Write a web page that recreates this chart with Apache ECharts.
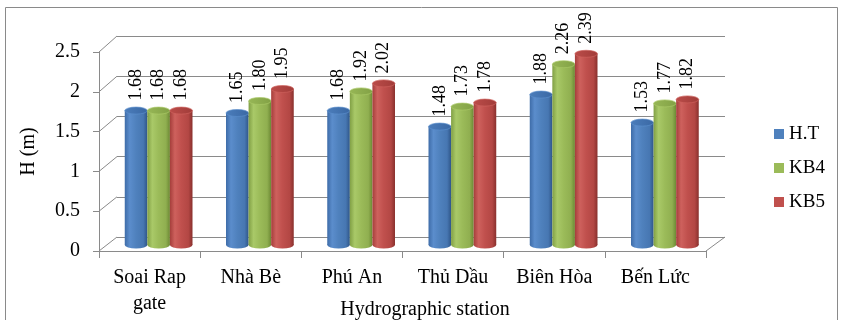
<!DOCTYPE html>
<html>
<head>
<meta charset="utf-8">
<script src="https://cdn.jsdelivr.net/npm/echarts@6/dist/echarts.min.js"></script>
<style>
  html, body { margin: 0; padding: 0; background: #fff; }
  #chart { width: 841px; height: 320px; }
</style>
</head>
<body>
<div id="chart"></div>
<script>
// Water level (H, m) at each hydrographic station for three scenarios
const categories = ['Soai Rap\ngate', 'Nhà Bè', 'Phú An', 'Thủ Dầu', 'Biên Hòa', 'Bến Lức'];
const seriesNames = ['H.T', 'KB4', 'KB5'];
const htValues  = [1.68, 1.65, 1.68, 1.48, 1.88, 1.53];
const kb4Values = [1.68, 1.80, 1.92, 1.73, 2.26, 1.77];
const kb5Values = [1.68, 1.95, 2.02, 1.78, 2.39, 1.82];
const yMin = 0, yMax = 2.5, yStep = 0.5;
const yTicks = [0, 0.5, 1, 1.5, 2, 2.5];

// Pseudo-3D box: front face, mid depth (where the columns stand) and back wall
const W = 841, H = 320;
const front = { x0: 99,  x1: 706,   y0: 52, y1: 251 };
const mid   = { x0: 108, x1: 715.5, y0: 45, y1: 245 };
const back  = { x0: 117, x1: 725,   y0: 36, y1: 237 };
const gridOf = (b) => ({ left: b.x0, right: W - b.x1, top: b.y0, bottom: H - b.y1 });

const FONT = '"Liberation Serif", "Times New Roman", serif';
const LINE = '#8a8a8a';

// Cylinder shading per series: body gradient (left→right) and cap colours
const palette = [
  { base: '#4F81BD', body: ['#3e6ca8', '#5b8dcc', '#4f81bd', '#4777b2', '#2f5689'], cap: ['#4b7dbb', '#3a68a4'] },
  { base: '#9BBB59', body: ['#81a045', '#a9c968', '#9bbb59', '#90af50', '#6c8934'], cap: ['#97b756', '#82a145'] },
  { base: '#C0504D', body: ['#a53e3b', '#ce615d', '#c0504d', '#b34744', '#89302d'], cap: ['#bb4c49', '#a13c39'] }
];

function grad(stops, horizontal) {
  const n = stops.length - 1;
  const pos = [0, 0.22, 0.5, 0.82, 1];
  return new echarts.graphic.LinearGradient(0, 0, horizontal ? 1 : 0, horizontal ? 0 : 1,
    stops.map((c, i) => ({ offset: n === 4 ? pos[i] : i / n, color: c })));
}

function renderCylinder(params, api) {
  const si = seriesNames.indexOf(params.seriesName);
  const p = palette[si];
  const ci = api.value(0);
  const v = api.value(1);
  const topPt = api.coord([ci, v]);
  const basePt = api.coord([ci, 0]);
  const band = api.size([1, 0])[0];
  const w = band * 0.223;
  const r = w / 2;
  const ry = 3.5;
  const cx = topPt[0] + (si - 1) * w;
  const body = grad(p.body, true);
  return {
    type: 'group',
    children: [
      { type: 'circle', x: cx, y: basePt[1], scaleY: ry / r, shape: { cx: 0, cy: 0, r: r }, style: { fill: body } },
      { type: 'rect', shape: { x: cx - r, y: topPt[1], width: w, height: basePt[1] - topPt[1] }, style: { fill: body } },
      { type: 'circle', x: cx, y: topPt[1], scaleY: ry / r, shape: { cx: 0, cy: 0, r: r },
        style: { fill: grad(p.cap, true), stroke: p.body[1], lineWidth: 0.6 } },
      { type: 'text', x: cx, y: topPt[1] - 10, rotation: Math.PI / 2,
        style: { text: v.toFixed(2), align: 'left', verticalAlign: 'middle', fill: '#000', font: '18px ' + FONT } }
    ]
  };
}

const seriesData = [htValues, kb4Values, kb5Values];

const chart = echarts.init(document.getElementById('chart'), null, { renderer: 'canvas' });

const option = {
  animation: false,
  backgroundColor: '#fff',
  grid: [gridOf(front), gridOf(mid), gridOf(back)],
  xAxis: [
    { gridIndex: 0, type: 'category', data: categories,
      axisLine: { show: true, lineStyle: { color: LINE, width: 1 } },
      axisTick: { show: true, length: 7, lineStyle: { color: LINE } },
      axisLabel: { color: '#000', fontFamily: FONT, fontSize: 20, lineHeight: 26, margin: 14, interval: 0 },
      splitLine: { show: false } },
    { gridIndex: 1, type: 'category', data: categories, show: false },
    { gridIndex: 2, type: 'category', data: categories, show: false }
  ],
  yAxis: [
    { gridIndex: 0, type: 'value', min: yMin, max: yMax, interval: yStep,
      name: 'H (m)', nameLocation: 'middle', nameGap: 60,
      nameTextStyle: { color: '#000', fontFamily: FONT, fontSize: 20 },
      axisLine: { show: true, lineStyle: { color: LINE, width: 1 } },
      axisTick: { show: true, length: 6, lineStyle: { color: LINE } },
      axisLabel: { color: '#000', fontFamily: FONT, fontSize: 20, margin: 19 },
      splitLine: { show: false } },
    { gridIndex: 1, type: 'value', min: yMin, max: yMax, interval: yStep, show: false, splitLine: { show: false } },
    { gridIndex: 2, type: 'value', min: yMin, max: yMax, interval: yStep,
      axisLine: { show: false }, axisTick: { show: false }, axisLabel: { show: false },
      splitLine: { show: true, lineStyle: { color: LINE, width: 1 } } }
  ],
  legend: {
    orient: 'vertical', left: 769, top: 119,
    itemWidth: 10, itemHeight: 10, itemGap: 14, icon: 'rect',
    data: seriesNames,
    textStyle: { color: '#000', fontFamily: FONT, fontSize: 19, lineHeight: 20 }
  },
  series: seriesNames.map((name, i) => ({
    name: name,
    type: 'custom',
    xAxisIndex: 1,
    yAxisIndex: 1,
    renderItem: renderCylinder,
    itemStyle: { color: palette[i].base },
    encode: { x: 0, y: 1 },
    data: seriesData[i].map((v, k) => [k, v]),
    z: 3
  }))
};

chart.setOption(option);

// Side-wall and floor edges linking the front face to the back wall
const yFront = (v) => chart.convertToPixel({ yAxisIndex: 0 }, v);
const yBack = (v) => chart.convertToPixel({ yAxisIndex: 2 }, v);
const edges = yTicks.map((v) => ({
  type: 'line', silent: true, z: 1,
  shape: { x1: front.x0, y1: yFront(v), x2: back.x0, y2: yBack(v) },
  style: { stroke: LINE, lineWidth: 1 }
}));
edges.push({
  type: 'line', silent: true, z: 1,
  shape: { x1: front.x1, y1: yFront(0), x2: back.x1, y2: yBack(0) },
  style: { stroke: LINE, lineWidth: 1 }
});

chart.setOption({
  graphic: [
    { type: 'rect', silent: true, z: 0,
      shape: { x: 5.5, y: 7.5, width: 832, height: 340 },
      style: { fill: 'none', stroke: LINE, lineWidth: 1 } },
    { type: 'text', silent: true, z: 5, x: 425, y: 310,
      style: { text: 'Hydrographic station', align: 'center', verticalAlign: 'middle',
               fill: '#000', font: '20px ' + FONT } }
  ].concat(edges)
});
</script>
</body>
</html>
